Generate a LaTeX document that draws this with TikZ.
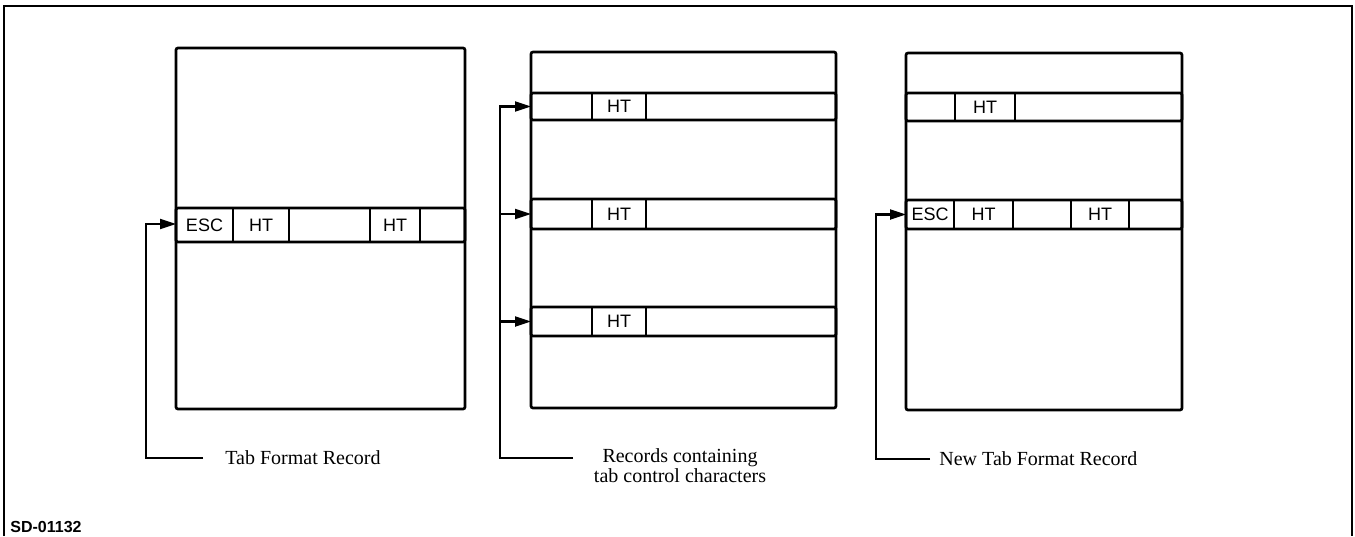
\documentclass[tikz,border=0pt]{standalone}
\usepackage{fontspec}
\setmainfont{Liberation Serif}
\setsansfont{Liberation Sans}
\usetikzlibrary{arrows.meta}

\begin{document}
\begin{tikzpicture}[x=0.5pt,y=-0.5pt,
    rec/.style={line width=1.35pt,rounded corners=1pt},
    cell/.style={font=\sffamily\fontsize{9}{10}\selectfont,inner sep=0pt},
    caption/.style={font=\fontsize{10}{12}\selectfont,inner sep=0pt},
    feed/.style={line width=1.1pt,-{Triangle[length=8pt,width=5pt]}}]
    \useasboundingbox (0,0) rectangle (1355,536);
    \draw[line width=1pt] (4,536) -- (4,6) -- (1352,6) -- (1352,536);
    \node[font=\sffamily\bfseries\fontsize{8}{10}\selectfont,anchor=west,inner sep=0pt] (sd) at (10,527) {SD-01132};
    % tab format record
    \draw[rec] (176,48) rectangle (465,409);
    \draw[rec] (176,208) rectangle (465,242);
    \foreach \x in {233,289,370,420} \draw[rec] (\x,208) -- (\x,242);
    \node[cell] (esc1) at (204.5,225) {ESC};
    \node[cell] (ht1) at (261,225) {HT};
    \node[cell] (ht2) at (395,225) {HT};
    \coordinate (in1) at (176,224);
    \coordinate (c1) at (146,458);
    \node[caption,anchor=west] (lbl1) at (225,458) {Tab Format Record};
    \draw[feed,shorten <=11pt] (lbl1.west) -- (c1) |- (in1);
    % records with tab characters
    \draw[rec] (531,52) rectangle (836,408);
    \foreach \t/\b/\n in {93/120/a,199/229/b,307/336/c}{
      \draw[rec] (531,\t) rectangle (836,\b);
      \draw[rec] (592,\t) -- (592,\b);
      \draw[rec] (646,\t) -- (646,\b);
      \node[cell] (ht2\n) at (619,{(\t+\b)/2}) {HT};
      \coordinate (in2\n) at (531,{(\t+\b)/2});
    }
    \coordinate (c2) at (500,458);
    \node[caption] (lbl2) at (680,458) {Records containing};
    \node[caption] (lbl2b) at (680,476) {tab control characters};
    \draw[feed,shorten <=14.5pt] (lbl2.west) -- (c2) |- (in2a);
    \draw[feed] (c2) |- (in2b);
    \draw[feed] (c2) |- (in2c);
    % new tab format record
    \draw[rec] (906,53) rectangle (1182,410);
    \draw[rec] (906,93) rectangle (1182,121);
    \draw[rec] (955,93) -- (955,121);
    \draw[rec] (1015,93) -- (1015,121);
    \node[cell] (ht3) at (985,107) {HT};
    \draw[rec] (906,200) rectangle (1182,229);
    \foreach \x in {954,1013,1071,1129} \draw[rec] (\x,200) -- (\x,229);
    \node[cell] (esc3) at (930,214.5) {ESC};
    \node[cell] (ht4) at (983.5,214.5) {HT};
    \node[cell] (ht5) at (1100,214.5) {HT};
    \coordinate (in3) at (906,214.5);
    \coordinate (c3) at (876,459);
    \node[caption,anchor=west] (lbl3) at (939,459) {New Tab Format Record};
    \draw[feed,shorten <=4.5pt] (lbl3.west) -- (c3) |- (in3);
\end{tikzpicture}
\end{document}
